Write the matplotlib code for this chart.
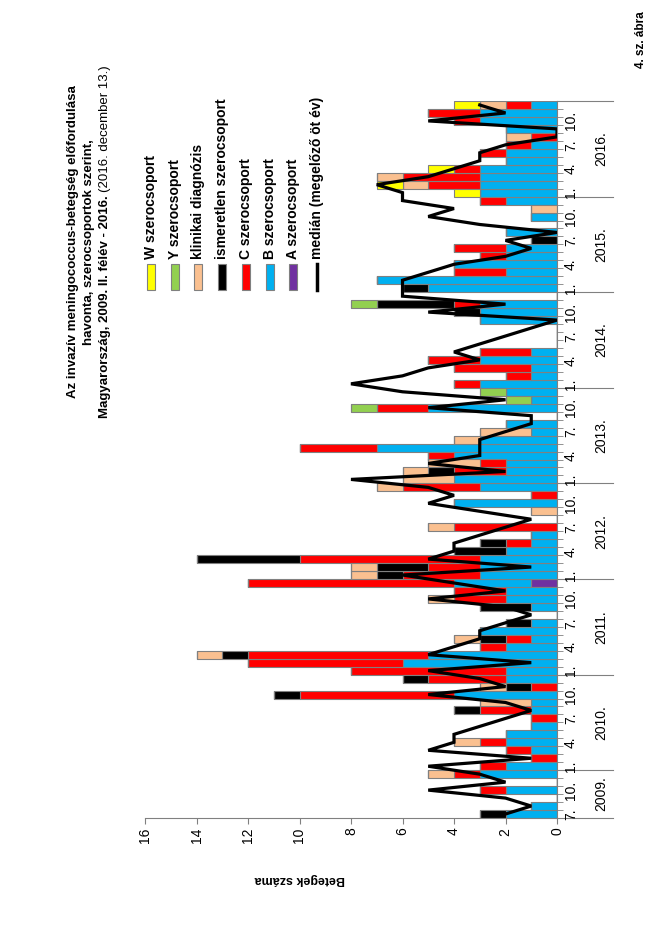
import numpy as np
import matplotlib
matplotlib.use("Agg")
import matplotlib.pyplot as plt
from matplotlib import transforms
from matplotlib.patches import Rectangle
from matplotlib.lines import Line2D

plt.rcParams['font.family'] = ['Liberation Sans', 'DejaVu Sans']

# havi esetszamok, 2009. julius - 2016. december
evek = ["2009.", "2010.", "2011.", "2012.", "2013.", "2014.", "2015.", "2016."]

A_sz = ([0, 0, 0, 0, 0, 0] +
        [0, 0, 0, 0, 0, 0, 0, 0, 0, 0, 0, 0] +
        [0, 0, 0, 0, 0, 0, 0, 0, 0, 0, 0, 1] +
        [0, 0, 0, 0, 0, 0, 0, 0, 0, 0, 0, 0] * 5)
B_sz = ([2, 1, 0, 2, 0, 3] +
        [2, 0, 1, 2, 2, 1, 0, 1, 1, 4, 0, 2] +
        [2, 6, 5, 2, 1, 3, 1, 0, 1, 2, 2, 3] +
        [3, 3, 3, 2, 1, 1, 0, 0, 0, 4, 0, 3] +
        [4, 2, 2, 4, 7, 3, 1, 2, 0, 5, 1, 2] +
        [3, 1, 1, 3, 1, 0, 0, 0, 3, 3, 3, 0] +
        [5, 7, 2, 4, 2, 2, 0, 2, 0, 1, 0, 2] +
        [3, 3, 3, 3, 2, 2, 1, 0, 2, 3, 3, 1])
C_sz = ([0, 0, 0, 1, 0, 1] +
        [1, 1, 1, 1, 0, 0, 1, 2, 0, 6, 1, 3] +
        [6, 6, 7, 1, 1, 0, 0, 0, 0, 2, 2, 8] +
        [3, 2, 7, 0, 1, 0, 4, 0, 0, 0, 1, 3] +
        [0, 2, 1, 1, 3, 0, 0, 0, 0, 2, 0, 0] +
        [1, 1, 3, 2, 2, 0, 0, 0, 0, 0, 1, 0] +
        [0, 0, 2, 0, 1, 2, 0, 0, 0, 0, 0, 1] +
        [0, 2, 3, 1, 0, 1, 1, 1, 0, 1, 2, 1])
ism_sz = ([1, 0, 0, 0, 0, 0] +
          [0, 0, 0, 0, 0, 0, 0, 1, 0, 1, 1, 1] +
          [0, 0, 1, 0, 1, 0, 1, 0, 2, 0, 0, 0] +
          [1, 2, 4, 2, 1, 0, 0, 0, 0, 0, 0, 0] +
          [0, 1, 0, 0, 0, 0, 0, 0, 0, 0, 0, 0] +
          [0, 0, 0, 0, 0, 0, 0, 0, 0, 1, 3, 0] +
          [1, 0, 0, 0, 0, 0, 1, 0, 0, 0, 0, 0] +
          [0, 0, 0, 0, 0, 0, 0, 0, 0, 0, 0, 0])
klin_sz = ([0, 0, 0, 0, 0, 1] +
           [0, 0, 0, 1, 0, 0, 0, 0, 2, 0, 1, 0] +
           [0, 0, 1, 0, 1, 0, 0, 0, 0, 1, 0, 0] +
           [1, 1, 0, 0, 0, 0, 1, 0, 1, 0, 0, 1] +
           [2, 1, 2, 0, 0, 1, 2, 0, 0, 0, 0, 0] +
           [0, 0, 0, 0, 0, 0, 0, 0, 0, 0, 0, 0] +
           [0, 0, 0, 0, 0, 0, 0, 0, 0, 0, 1, 0] +
           [0, 1, 1, 0, 0, 0, 0, 1, 0, 0, 0, 1])
Y_sz = ([0, 0, 0, 0, 0, 0] +
        [0, 0, 0, 0, 0, 0, 0, 0, 0, 0, 0, 0] * 3 +
        [0, 0, 0, 0, 0, 0, 0, 0, 0, 1, 1, 1] +
        [0, 0, 0, 0, 0, 0, 0, 0, 0, 0, 1, 0] +
        [0, 0, 0, 0, 0, 0, 0, 0, 0, 0, 0, 0] * 2)
W_sz = ([0, 0, 0, 0, 0, 0] +
        [0, 0, 0, 0, 0, 0, 0, 0, 0, 0, 0, 0] * 6 +
        [1, 1, 0, 1, 0, 0, 0, 0, 0, 0, 0, 1])
median = ([2, 1, 2, 5, 2, 3] +
          [5, 1, 5, 4, 4, 3, 2, 1, 2, 5, 2, 3] +
          [5, 1, 5, 4, 3, 3, 2, 1, 2, 5, 2, 4] +
          [6, 1, 5, 4, 4, 3, 2, 1, 3, 5, 4, 5] +
          [8, 2, 5, 3, 3, 3, 2, 1, 1, 5, 2, 6] +
          [8, 6, 5, 3, 4, 3, 2, 1, 0, 5, 2, 6] +
          [6, 6, 5, 4, 2, 1, 2, 0, 3, 5, 4, 6] +
          [6, 7, 5, 4, 3, 3, 2, 0, 0, 5, 2, 3])

sorozatok = [
    ("A szerocsoport", A_sz, "#7030A0"),
    ("B szerocsoport", B_sz, "#00B0F0"),
    ("C szerocsoport", C_sz, "#FF0000"),
    ("ismeretlen szerocsoport", ism_sz, "#000000"),
    ("klinikai diagnózis", klin_sz, "#FAC090"),
    ("Y szerocsoport", Y_sz, "#92D050"),
    ("W szerocsoport", W_sz, "#FFFF00"),
]

W, H = 661, 925
szurke = "#808080"


def fx(x):
    return x / W


def fy(y):
    return 1 - y / H


fig = plt.figure(figsize=(W / 100, H / 100), dpi=100)
# az egesz abra 90 fokkal elforgatva
ax = fig.add_axes([fx(145), fy(818), fx(557) - fx(145), fy(101) - fy(818)])

n = len(B_sz)
honap = np.arange(n)
alap = np.zeros(n)
for nev, ertek, szin in sorozatok:
    ertek = np.array(ertek, dtype=float)
    ax.barh(honap, ertek, left=alap, height=1.0, color=szin,
            edgecolor=szurke, linewidth=0.8, zorder=2)
    alap += ertek

ax.plot(median, honap, color="black", linewidth=2.3, zorder=3,
        solid_joinstyle="miter")

ax.set_xlim(16, 0)
ax.set_ylim(-0.5, n - 0.5)

for s in ["left", "top"]:
    ax.spines[s].set_visible(False)
ax.spines["bottom"].set_color(szurke)
ax.spines["right"].set_color(szurke)

ax.set_xticks(range(0, 17, 2))
ax.set_xticklabels([str(v) for v in range(0, 17, 2)], rotation=90, fontsize=10)
ax.tick_params(axis="x", direction="out", length=4, color=szurke, pad=3)

ax.yaxis.tick_right()
ax.set_yticks([])
ax.set_yticks(np.arange(-0.5, n, 1.0), minor=True)
ax.tick_params(axis="y", which="minor", direction="out", length=4,
               color=szurke, right=True, left=False)

# honap es ev feliratok
tr = transforms.blended_transform_factory(fig.transFigure, ax.transData)
for i in range(n):
    m = (i + 6) % 12 + 1
    if m in (1, 4, 7, 10):
        ax.text(fx(571), i, f"{m}.", transform=tr, rotation=90,
                ha="center", va="center", fontsize=10)

hatarok = [-0.5, 5.5, 17.5, 29.5, 41.5, 53.5, 65.5, 77.5, 89.5]
for k, ev in enumerate(evek):
    kozep = (hatarok[k] + hatarok[k + 1]) / 2
    ax.text(fx(601), kozep, ev, transform=tr, rotation=90,
            ha="center", va="center", fontsize=10)
for h in hatarok:
    ax.add_line(Line2D([fx(557), fx(613)], [h, h], transform=tr,
                       color=szurke, linewidth=0.8, clip_on=False))

fig.text(fx(300), fy(879), "Betegek száma", rotation=180, ha="center",
         va="center", fontsize=9, fontweight="bold")

# cim
cim = ["Az invazív meningococcus-betegség előfordulása",
       "havonta, szerocsoportok szerint,"]
fig.text(fx(73), fy(242), cim[0], rotation=90, ha="center", va="center",
         fontsize=9.5, fontweight="bold")
fig.text(fx(89), fy(242), cim[1], rotation=90, ha="center", va="center",
         fontsize=9.5, fontweight="bold")
t1 = fig.text(fx(105), fy(418), "Magyarország, 2009. II. félév - 2016. ",
              rotation=90, ha="center", va="bottom", fontsize=9.5,
              fontweight="bold")
fig.canvas.draw()
bb = t1.get_window_extent()
fig.text(fx(105), bb.y1 / H, "(2016. december 13.)", rotation=90,
         ha="center", va="bottom", fontsize=9.5)

fig.text(fx(641), fy(40), "4. sz. ábra", rotation=90, ha="center",
         va="center", fontsize=8.5, fontweight="bold")

# jelmagyarazat kezzel, elforgatva
lx = [151, 175, 198, 222, 246, 270, 293]
jm = [sorozatok[6], sorozatok[5], sorozatok[4], sorozatok[3],
      sorozatok[2], sorozatok[1], sorozatok[0]]
for x, (nev, _, szin) in zip(lx, jm):
    fig.patches.append(Rectangle((fx(x - 4), fy(290)), fx(8), fy(264) - fy(290),
                                 transform=fig.transFigure, facecolor=szin,
                                 edgecolor=szurke, linewidth=0.8))
    fig.text(fx(x), fy(259), nev, rotation=90, ha="center", va="bottom",
             fontsize=10, fontweight="bold")
fig.lines.append(Line2D([fx(317), fx(317)], [fy(290), fy(264)],
                        transform=fig.transFigure, color="black", linewidth=2.5))
fig.text(fx(317), fy(259), "medián (megelőző öt év)", rotation=90,
         ha="center", va="bottom", fontsize=10, fontweight="bold")

fig.savefig("out.png", dpi=100)
